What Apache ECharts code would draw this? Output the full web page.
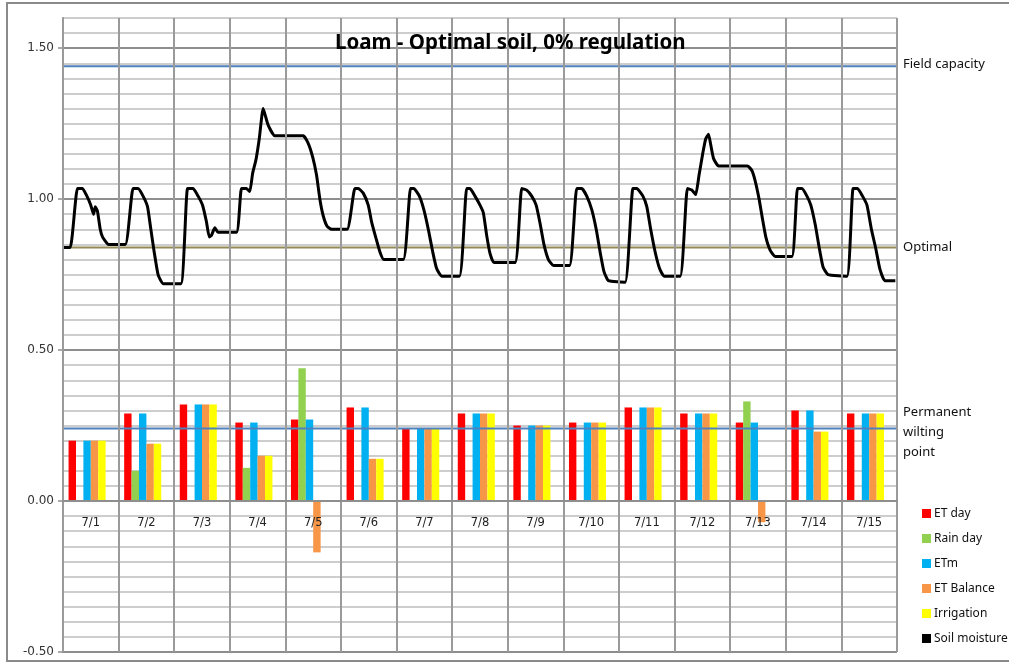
<!DOCTYPE html>
<html>
<head>
<meta charset="utf-8">
<script src="https://cdn.jsdelivr.net/npm/echarts@6/dist/echarts.min.js"></script>
<style>
  html, body { margin: 0; padding: 0; background: #ffffff; }
  #chart { width: 1009px; height: 665px; }
</style>
</head>
<body>
<div id="chart"></div>
<script>
// Daily water balance components (shared value axis)
const days = ['7/1', '7/2', '7/3', '7/4', '7/5', '7/6', '7/7', '7/8', '7/9', '7/10', '7/11', '7/12', '7/13', '7/14', '7/15'];
const etDay      = [0.20, 0.29, 0.32, 0.26, 0.27, 0.31, 0.24, 0.29, 0.25, 0.26, 0.31, 0.29, 0.26, 0.30, 0.29];
const rainDay    = [0,    0.10, 0,    0.11, 0.44, 0,    0,    0,    0,    0,    0,    0,    0.33, 0,    0];
const etm        = [0.20, 0.29, 0.32, 0.26, 0.27, 0.31, 0.24, 0.29, 0.25, 0.26, 0.31, 0.29, 0.26, 0.30, 0.29];
const etBalance  = [0.20, 0.19, 0.32, 0.15, -0.17, 0.14, 0.24, 0.29, 0.25, 0.26, 0.31, 0.29, -0.07, 0.23, 0.29];
const irrigation = [0.20, 0.19, 0.32, 0.15, 0,    0.14, 0.24, 0.29, 0.25, 0.26, 0.31, 0.29, 0,    0.23, 0.29];

// Soil moisture through the period: time in days since 7/1 00:00, and moisture
const soilDay = [
  0.00, 0.13, 0.26, 0.35, 0.43, 0.50, 0.55, 0.58, 0.62, 0.67, 0.71, 0.82,
  1.12, 1.26, 1.35, 1.44, 1.52, 1.58, 1.64, 1.71, 1.80,
  2.12, 2.24, 2.34, 2.43, 2.51, 2.58, 2.63, 2.67, 2.73, 2.79,
  3.12, 3.21, 3.30, 3.36, 3.41, 3.47, 3.53, 3.60, 3.69, 3.81,
  4.32, 4.41, 4.49, 4.56, 4.62, 4.68, 4.75, 4.83,
  5.11, 5.25, 5.31, 5.40, 5.49, 5.55, 5.63, 5.70, 5.77,
  6.12, 6.25, 6.31, 6.41, 6.49, 6.57, 6.65, 6.72, 6.81,
  7.13, 7.26, 7.32, 7.41, 7.50, 7.56, 7.62, 7.68, 7.75,
  8.13, 8.25, 8.34, 8.43, 8.51, 8.58, 8.65, 8.73, 8.82,
  9.11, 9.24, 9.33, 9.42, 9.51, 9.59, 9.66, 9.73, 9.81,
  10.11, 10.25, 10.32, 10.43, 10.50, 10.57, 10.65, 10.73, 10.81,
  11.10, 11.23, 11.31, 11.38, 11.44, 11.51, 11.56, 11.61, 11.65, 11.70, 11.79,
  12.31, 12.39, 12.45, 12.52, 12.58, 12.64, 12.72, 12.81,
  13.11, 13.21, 13.29, 13.38, 13.45, 13.53, 13.60, 13.67, 13.76,
  14.10, 14.21, 14.29, 14.38, 14.46, 14.54, 14.62, 14.69, 14.78, 14.97
];
const soilMoisture = [
  0.84, 0.84, 1.035, 1.035, 1.01, 0.98, 0.95, 0.975, 0.96, 0.90, 0.875, 0.85,
  0.85, 1.035, 1.035, 1.01, 0.975, 0.90, 0.825, 0.75, 0.72,
  0.72, 1.035, 1.035, 1.01, 0.98, 0.925, 0.875, 0.88, 0.905, 0.89,
  0.89, 1.035, 1.035, 1.025, 1.085, 1.13, 1.20, 1.30, 1.245, 1.21,
  1.21, 1.185, 1.14, 1.08, 1.00, 0.945, 0.91, 0.90,
  0.90, 1.035, 1.035, 1.02, 0.98, 0.925, 0.87, 0.825, 0.80,
  0.80, 1.035, 1.035, 1.01, 0.965, 0.90, 0.825, 0.77, 0.745,
  0.745, 1.035, 1.035, 1.01, 0.98, 0.955, 0.88, 0.82, 0.79,
  0.79, 1.035, 1.03, 1.01, 0.98, 0.92, 0.85, 0.80, 0.78,
  0.78, 1.035, 1.035, 1.01, 0.965, 0.90, 0.825, 0.76, 0.73,
  0.725, 1.035, 1.035, 1.01, 0.975, 0.90, 0.825, 0.77, 0.745,
  0.745, 1.035, 1.03, 1.015, 1.08, 1.155, 1.20, 1.215, 1.18, 1.135, 1.11,
  1.11, 1.095, 1.06, 1.00, 0.935, 0.875, 0.83, 0.81,
  0.81, 1.035, 1.035, 1.01, 0.98, 0.915, 0.84, 0.775, 0.75,
  0.745, 1.035, 1.035, 1.01, 0.98, 0.90, 0.835, 0.77, 0.73, 0.73
];

// Soil water thresholds
const refNames  = ['Field capacity', 'Optimal', 'Permanent\nwilting\npoint'];
const refValues = [1.44, 0.84, 0.24];
const refColors = ['#4f81bd', '#948a54', '#4f81bd'];

// Value axis range and its labelled ticks
const yMin = -0.5;
const yMax = 1.6;
const yTicks = [-0.5, 0, 0.5, 1.0, 1.5];

const chartWidth = 1009, chartHeight = 665;
const gridBox = { left: 63, right: 112, top: 18, bottom: 13 };
const plotHeight = chartHeight - gridBox.top - gridBox.bottom;
// lift the category axis from the bottom edge up to the zero line
const zeroOffset = -plotHeight * (0 - yMin) / (yMax - yMin);

const chart = echarts.init(document.getElementById('chart'));

const barColors = ['#ff0000', '#92d050', '#00b0f0', '#f79646', '#ffff00'];
const barNames = ['ET day', 'Rain day', 'ETm', 'ET Balance', 'Irrigation'];
const barData = [etDay, rainDay, etm, etBalance, irrigation];

const series = barNames.map((name, i) => ({
  name: name,
  type: 'bar',
  xAxisIndex: 0,
  yAxisIndex: 0,
  barGap: 0,
  barCategoryGap: '20%',
  itemStyle: { color: barColors[i] },
  data: barData[i]
}));
// empty sixth slot in each day group
series.push({ name: 'slot', type: 'bar', xAxisIndex: 0, yAxisIndex: 0, barGap: 0, barCategoryGap: '20%', data: [] });

refNames.forEach((name, i) => {
  series.push({
    name: name,
    type: 'line',
    xAxisIndex: 1,
    yAxisIndex: 0,
    symbol: 'none',
    silent: true,
    z: 3,
    lineStyle: { color: refColors[i], width: 2 },
    endLabel: {
      show: true,
      formatter: name,
      distance: 6,
      offset: i === 2 ? [0, 4] : (i === 0 ? [0, -2] : [0, 0]),
      color: '#111',
      fontFamily: 'Noto Sans',
      fontSize: 13,
      lineHeight: 20
    },
    data: [[0, refValues[i]], [days.length, refValues[i]]]
  });
});

series.push({
  name: 'Soil moisture',
  type: 'line',
  xAxisIndex: 1,
  yAxisIndex: 0,
  symbol: 'none',
  smooth: 0.15,
  z: 4,
  itemStyle: { color: '#000' },
  lineStyle: { color: '#000', width: 3 },
  data: soilDay.map((d, i) => [d, soilMoisture[i]])
});

const gridColors = ['#8e8e8e'];
for (let k = 0; k < 9; k++) gridColors.push('#cdcdcd');

chart.setOption({
  animation: false,
  backgroundColor: '#ffffff',
  title: {
    text: 'Loam - Optimal soil, 0% regulation',
    left: 330,
    top: 28,
    textStyle: { fontFamily: 'Noto Sans', fontWeight: 'bold', fontSize: 20.5, color: '#000' }
  },
  legend: {
    orient: 'vertical',
    left: 917,
    top: 502,
    icon: 'rect',
    itemWidth: 9,
    itemHeight: 9,
    itemGap: 12,
    data: ['ET day', 'Rain day', 'ETm', 'ET Balance', 'Irrigation', 'Soil moisture'],
    textStyle: { fontFamily: 'Noto Sans', fontSize: 12, color: '#111', lineHeight: 13, padding: [0, 0, 0, -2] }
  },
  grid: Object.assign({ containLabel: false, outerBoundsMode: 'none' }, gridBox),
  xAxis: [
    {
      type: 'category',
      data: days,
      boundaryGap: true,
      position: 'bottom',
      offset: zeroOffset,
      z: 5,
      axisLine: { show: true, onZero: false, lineStyle: { color: '#8e8e8e', width: 2 } },
      axisTick: { show: false },
      axisLabel: { margin: 16, fontFamily: 'DejaVu Sans', fontSize: 11.5, color: '#222' },
      splitLine: { show: true, lineStyle: { color: '#9a9a9a', width: 2 } }
    },
    {
      type: 'value',
      min: 0,
      max: days.length,
      show: false,
      axisLine: { onZero: false },
      splitLine: { show: false }
    }
  ],
  yAxis: [
    {
      // fine grid every 0.05
      type: 'value',
      min: yMin,
      max: yMax,
      interval: 0.05,
      axisLine: { show: true, onZero: false, lineStyle: { color: '#8e8e8e', width: 2 } },
      axisTick: { show: false },
      axisLabel: { show: false },
      splitLine: { show: true, lineStyle: { color: gridColors, width: 2 } }
    },
    {
      // labelled ticks
      type: 'value',
      position: 'left',
      min: yMin,
      max: yMax,
      axisLine: { show: false, onZero: false },
      axisTick: { show: true, length: 5, customValues: yTicks, lineStyle: { color: '#8e8e8e', width: 1.5 } },
      axisLabel: {
        customValues: yTicks,
        formatter: v => v.toFixed(2),
        margin: 9,
        fontFamily: 'DejaVu Sans',
        fontSize: 12,
        color: '#333'
      },
      splitLine: { show: false }
    }
  ],
  graphic: [
    {
      type: 'rect',
      silent: true,
      shape: { x: 7, y: 3, width: 1100, height: 658 },
      style: { fill: 'none', stroke: '#8a8a8a', lineWidth: 2 }
    }
  ],
  series: series
});
</script>
</body>
</html>
